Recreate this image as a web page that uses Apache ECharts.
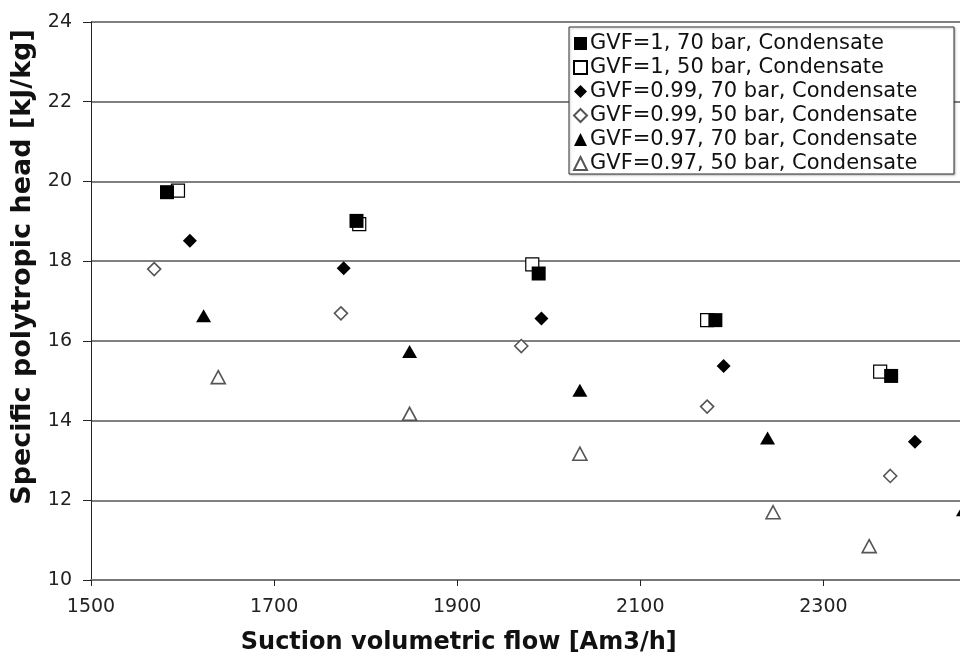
<!DOCTYPE html>
<html>
<head>
<meta charset="utf-8">
<title>Specific polytropic head vs suction volumetric flow</title>
<script src="https://cdn.jsdelivr.net/npm/echarts@6/dist/echarts.min.js"></script>
<style>
  html, body { margin: 0; padding: 0; background: #fff; }
  #chart { width: 960px; height: 659px; }
</style>
</head>
<body>
<div id="chart"></div>
<script>
// series names (legend order)
var seriesNames = [
  'GVF=1, 70 bar, Condensate',
  'GVF=1, 50 bar, Condensate',
  'GVF=0.99, 70 bar, Condensate',
  'GVF=0.99, 50 bar, Condensate',
  'GVF=0.97, 70 bar, Condensate',
  'GVF=0.97, 50 bar, Condensate'
]

// suction volumetric flow [Am3/h] and head [kJ/kg]
var gvf1p70x = [1583, 1790, 1989, 2182, 2374]
var gvf1p70y = [19.73, 19.01, 17.69, 16.52, 15.12]
var gvf1p50x = [1595, 1793, 1982, 2173, 2362]
var gvf1p50y = [19.77, 18.93, 17.92, 16.52, 15.23]
var gvf99p70x = [1608, 1776, 1992, 2191, 2400]
var gvf99p70y = [18.51, 17.82, 16.56, 15.37, 13.47]
var gvf99p50x = [1569, 1773, 1970, 2173, 2373]
var gvf99p50y = [17.80, 16.69, 15.87, 14.35, 12.61]
var gvf97p70x = [1623, 1848, 2034, 2239, 2453]
var gvf97p70y = [16.63, 15.73, 14.76, 13.56, 11.76]
var gvf97p50x = [1639, 1848, 2034, 2245, 2350]
var gvf97p50y = [15.09, 14.17, 13.17, 11.70, 10.85]

// axis ticks
var xTicks = [1500, 1700, 1900, 2100, 2300]
var yTicks = [10, 12, 14, 16, 18, 20, 22, 24]

function pairs (xs, ys) {
  var out = []
  for (var i = 0; i < xs.length; i++) {
    out.push([xs[i], ys[i]])
  }
  return out
}

var filled = { color: '#000', opacity: 1 }
var hollowBlack = { color: '#fff', borderColor: '#000', borderWidth: 1.2, opacity: 1 }
var hollowGray = { color: '#fff', borderColor: '#555', borderWidth: 1.6, opacity: 1 }

var chart = echarts.init(document.getElementById('chart'))
var option = {
  backgroundColor: '#fff',
  animation: false,
  textStyle: { fontFamily: 'DejaVu Sans, sans-serif' },
  grid: {
    left: 91,
    top: 22,
    width: 915.5, // plot runs past the right edge like the original
    height: 558,
    outerBoundsMode: 'none'
  },
  legend: {
    data: seriesNames,
    orient: 'vertical',
    left: 569,
    top: 27,
    padding: [6, 6, 0, 4],
    itemGap: 3,
    itemWidth: 13,
    itemHeight: 13,
    backgroundColor: '#fff',
    borderColor: '#333',
    borderWidth: 1,
    shadowColor: 'rgba(0,0,0,0.25)',
    shadowBlur: 2,
    shadowOffsetX: 1,
    shadowOffsetY: 1,
    textStyle: {
      fontSize: 21,
      color: '#111',
      lineHeight: 20,
      width: 358,
      padding: [0, 0, 0, -2]
    }
  },
  xAxis: {
    type: 'value',
    min: 1500,
    max: 2500,
    interval: 200,
    name: 'Suction volumetric flow [Am3/h]',
    nameLocation: 'middle',
    nameGap: 51,
    nameTextStyle: {
      fontSize: 24,
      fontWeight: 'bold',
      color: '#111',
      padding: [0, 180, 0, 0]
    },
    axisLine: { lineStyle: { color: '#777', width: 2 } },
    axisTick: { show: true, length: 6, lineStyle: { color: '#222' } },
    axisLabel: {
      fontSize: 19,
      color: '#222',
      margin: 18,
      formatter: function (v) { return xTicks.indexOf(v) >= 0 ? String(v) : '' }
    },
    splitLine: { show: false }
  },
  yAxis: {
    type: 'value',
    min: 10,
    max: 24,
    interval: 2,
    name: 'Specific polytropic head [kJ/kg]',
    nameLocation: 'middle',
    nameGap: 54,
    nameTextStyle: {
      fontSize: 27,
      fontWeight: 'bold',
      color: '#111',
      padding: [0, 0, 0, 68]
    },
    axisLine: { show: true, lineStyle: { color: '#222', width: 1 } },
    axisTick: { show: true, length: 8, lineStyle: { color: '#222' } },
    axisLabel: {
      fontSize: 19,
      color: '#222',
      margin: 19,
      formatter: function (v) { return yTicks.indexOf(v) >= 0 ? String(v) : '' }
    },
    splitLine: { show: true, lineStyle: { color: '#808080', width: 2 } }
  },
  series: [
    {
      name: seriesNames[1],
      type: 'scatter',
      symbol: 'rect',
      symbolSize: 13,
      itemStyle: hollowBlack,
      data: pairs(gvf1p50x, gvf1p50y),
      z: 2
    },
    {
      name: seriesNames[0],
      type: 'scatter',
      symbol: 'rect',
      symbolSize: 14,
      itemStyle: filled,
      data: pairs(gvf1p70x, gvf1p70y),
      z: 3
    },
    {
      name: seriesNames[2],
      type: 'scatter',
      symbol: 'diamond',
      symbolSize: 14,
      itemStyle: filled,
      data: pairs(gvf99p70x, gvf99p70y),
      z: 3
    },
    {
      name: seriesNames[3],
      type: 'scatter',
      symbol: 'diamond',
      symbolSize: 13,
      itemStyle: hollowGray,
      data: pairs(gvf99p50x, gvf99p50y),
      z: 2
    },
    {
      name: seriesNames[4],
      type: 'scatter',
      symbol: 'triangle',
      symbolSize: [15, 13],
      itemStyle: filled,
      data: pairs(gvf97p70x, gvf97p70y),
      z: 3
    },
    {
      name: seriesNames[5],
      type: 'scatter',
      symbol: 'triangle',
      symbolSize: [14, 13],
      itemStyle: hollowGray,
      data: pairs(gvf97p50x, gvf97p50y),
      z: 2
    }
  ]
}
chart.setOption(option)
</script>
</body>
</html>
